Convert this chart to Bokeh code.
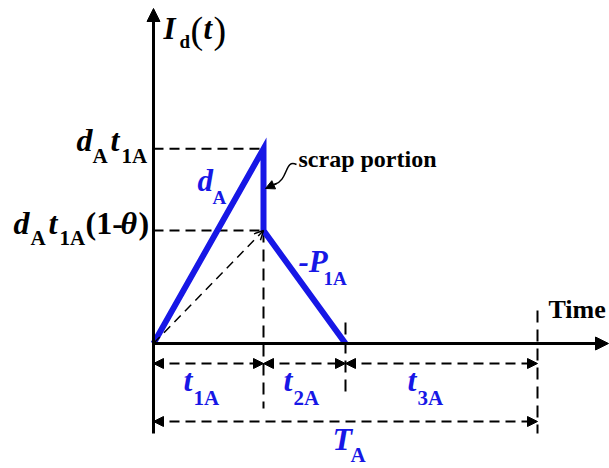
from bokeh.plotting import figure
from bokeh.models import Range1d, Arrow, NormalHead, OpenHead
from bokeh.embed import file_html
from bokeh.resources import INLINE
from bokeh.core.properties import value

# Inventory cycle of item A: durations of the three phases (time units)
phase_names = ["t1A", "t2A", "t3A"]
phase_durations = [1.10, 0.82, 1.92]
# production rate during t1A and fraction of stock scrapped at its end
d_A = 1.77
theta = 0.42

t1, t2, t3 = phase_durations
T_A = t1 + t2 + t3
peak = d_A * t1                 # d_A * t_1A
after_scrap = peak * (1 - theta)  # d_A * t_1A * (1 - theta)

# canvas geometry: origin position in pixels and pixels per unit
W, H = 609, 468
OX, OY = 153, 343
S = 100.0

BLUE = "#1717e6"
FONT = "Liberation Serif"


def fx(px):
    return (px - OX) / S


def fy(py):
    return (OY - py) / S


p = figure(width=W, height=H, output_backend="svg", toolbar_location=None,
           x_range=Range1d(fx(0), fx(W)), y_range=Range1d(fy(H), fy(0)),
           min_border=0)
p.axis.visible = False
p.grid.visible = False
p.outline_line_color = None
p.background_fill_color = "white"
p.border_fill_color = "white"

# axes with arrow tips
p.add_layout(Arrow(end=NormalHead(size=13, fill_color="black", line_color="black"),
                   x_start=0, y_start=fy(433), x_end=0, y_end=fy(8),
                   line_width=3, line_color="black"))
p.add_layout(Arrow(end=NormalHead(size=13, fill_color="black", line_color="black"),
                   x_start=0, y_start=0, x_end=fx(608), y_end=0,
                   line_width=3, line_color="black"))

# dashed guides to the level labels
p.segment(x0=[0, 0], y0=[peak, after_scrap], x1=[t1, t1], y1=[peak, after_scrap],
          line_dash="10 6", line_width=2, line_color="black")

# dashed phase boundaries
p.segment(x0=[t1, t1 + t2, T_A], y0=[after_scrap, fy(322), fy(310)],
          x1=[t1, t1 + t2, T_A], y1=[fy(408), fy(397), fy(433)],
          line_dash="12 7", line_width=2, line_color="black")

# dashed line from origin to the post-scrap level
p.add_layout(Arrow(end=OpenHead(size=9, line_color="black", line_width=1.5),
                   x_start=0, y_start=0, x_end=t1, y_end=after_scrap,
                   line_dash="9 6", line_width=1.5, line_color="black"))

# dimension arrows for the phases and the full cycle
starts = [0, t1, t1 + t2]
ends = [t1, t1 + t2, T_A]
for a, b in zip(starts, ends):
    p.add_layout(Arrow(start=NormalHead(size=10, fill_color="black", line_color="black"),
                       end=NormalHead(size=10, fill_color="black", line_color="black"),
                       x_start=a, y_start=fy(363), x_end=b, y_end=fy(363),
                       line_dash="10 6", line_width=2, line_color="black"))
p.add_layout(Arrow(start=NormalHead(size=10, fill_color="black", line_color="black"),
                   end=NormalHead(size=10, fill_color="black", line_color="black"),
                   x_start=0, y_start=fy(421), x_end=T_A, y_end=fy(421),
                   line_dash="10 6", line_width=2, line_color="black"))

# inventory level I_d(t)
p.line([0, t1, t1, t1 + t2], [0, peak, after_scrap, 0],
       line_width=6, line_color=BLUE, line_join="miter")

# pointer to the scrapped part
p.bezier(x0=[fx(296)], y0=[fy(164)], x1=[fx(274)], y1=[fy(184)],
         cx0=[fx(284)], cy0=[fy(158)], cx1=[fx(288)], cy1=[fy(180)],
         line_width=1.5, line_color="black")
p.add_layout(Arrow(end=NormalHead(size=9, fill_color="black", line_color="black"),
                   x_start=fx(276), y_start=fy(183), x_end=fx(265), y_end=fy(188),
                   line_width=1.5, line_color="black"))


def put(text, left, base, size, style="bold italic", color="black"):
    # the svg text sits lower than its nominal baseline; lift it back
    y = base - 0.38 * size
    p.text(x=[fx(left)], y=[fy(y)], text=[text],
           text_font=value(FONT), text_font_size=f"{size}px",
           text_font_style=style, text_color=color,
           text_align="left", text_baseline="alphabetic")


# axis title I_d(t)
put("I", 163, 40, 31)
put("d", 179, 48, 19, "bold")
put("(", 190, 44, 38, "normal")
put("t", 203, 40, 31)
put(")", 213, 44, 38, "normal")

# level labels
put("d", 76, 152, 32)
put("A", 92, 163, 21, "bold")
put("t", 110, 152, 32)
put("1A", 121, 163, 21, "bold")

put("d", 13, 235, 32)
put("A", 30, 245, 21, "bold")
put("t", 48, 235, 32)
put("1A", 59, 245, 21, "bold")
put("(1-", 85, 235, 32, "bold")
put("θ", 120, 235, 32)
put(")", 138, 235, 32, "bold")

# slope labels
put("d", 197, 192, 31, color=BLUE)
put("A", 212, 204, 19, "bold", BLUE)
put("-P", 298, 273, 31, color=BLUE)
put("1A", 323, 285, 19, "bold", BLUE)

# phase labels
put("t", 183, 392, 32, color=BLUE)
put("1A", 193, 405, 21, "bold", BLUE)
put("t", 283, 392, 32, color=BLUE)
put("2A", 293, 405, 21, "bold", BLUE)
put("t", 407, 392, 32, color=BLUE)
put("3A", 417, 405, 21, "bold", BLUE)
put("T", 332, 451, 32, color=BLUE)
put("A", 350, 462, 21, "bold", BLUE)

put("Time", 548, 319, 26, "bold")
put("scrap portion", 298, 168, 24, "bold")

open("out.html", "w").write(file_html(p, INLINE))
